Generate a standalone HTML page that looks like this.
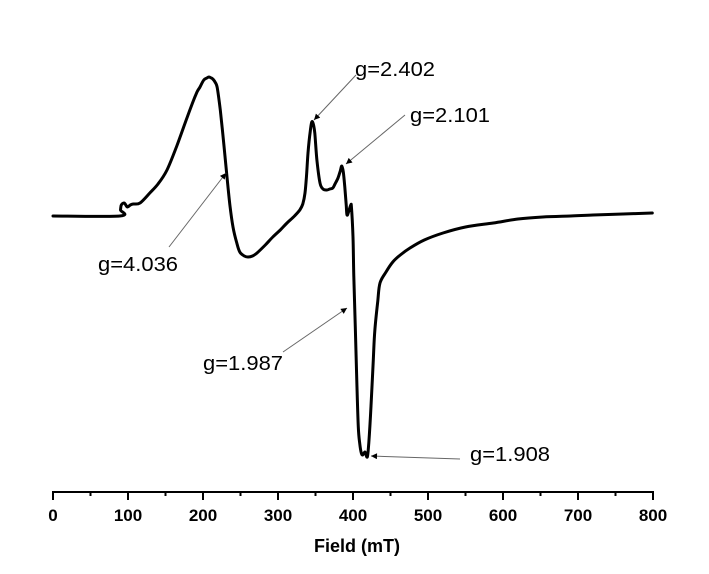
<!DOCTYPE html>
<html><head><meta charset="utf-8"><style>
body{margin:0;background:#fff;}
svg{display:block;font-family:"Liberation Sans",Arial,sans-serif;}
</style></head><body>
<svg id="chart" width="709" height="574" viewBox="0 0 709 574" xmlns="http://www.w3.org/2000/svg">
<defs><marker id="ah" viewBox="0 0 10 10" refX="10" refY="5" markerWidth="9" markerHeight="6" orient="auto"><path d="M0,0 L10,5 L0,10 z" fill="#000"/></marker></defs>
<g id="axis"></g>
<path id="curve" fill="none" stroke="#000" stroke-width="3" stroke-linejoin="round" stroke-linecap="round"/>
<g id="ann"></g>
<text x="357" y="552" text-anchor="middle" font-size="18" font-weight="bold">Field (mT)</text>
</svg>
<script>
const fieldValues=[0,89,90,91,95,99,103,107,116,129,140,152,165,179,186,192,196,201,205,208,211,213,216,219,223,228,232,236,240,245,249,255,260,266,272,283,293,303,312,322,329,333,336,338,340,343,345,347,349,352,356,360,365,369,373,376,380,383,385,387,389,391,392,394,397,398,400,401,403,405,407,409,411,413,416,419,421,424,427,429,433,436,444,453,463,476,495,520,550,587,620,653,690,720,760,799];
const signalValues=[0,0,6,11,13,9,11,12,13,23,32,46,70,99,113,124,129,136,138,139,138,137,134,128,106,70,39,10,-11,-27,-36,-40,-41,-40,-37,-29,-21,-14,-7,0,6,12,23,40,63,85,94,92,83,55,33,27,26,27,28,32,38,45,50,44,29,10,1,4,11,8,-21,-60,-111,-165,-211,-228,-237,-239,-236,-241,-227,-190,-144,-115,-85,-67,-56,-46,-39,-32,-24,-17,-11,-7,-3,-1,0,1,2,3];
const tickValues=[0,100,200,300,400,500,600,700,800];
const minorTickValues=[50,150,250,350,450,550,650,750];
const annotLabels=["g=2.402","g=2.101","g=4.036","g=1.987","g=1.908"];
const NS="http://www.w3.org/2000/svg";
function xs(v){return 53+v*0.75;}
function ys(v){return 216-v;}
const axis=document.getElementById('axis');
function mk(tag,attrs,parent){const e=document.createElementNS(NS,tag);for(const k in attrs)e.setAttribute(k,attrs[k]);parent.appendChild(e);return e;}
const al=mk('line',{x1:xs(0),x2:xs(800),y1:492,y2:492,stroke:'#000','stroke-width':2},axis);


tickValues.forEach(t=>{
  const l=mk('line',{x1:xs(t),x2:xs(t),y1:491,y2:500,stroke:'#000','stroke-width':2},axis);
  
  
  const tx=mk('text',{x:xs(t),y:521,'text-anchor':'middle','font-size':17,'font-weight':'bold'},axis);
  tx.textContent=t;
  
  
});
minorTickValues.forEach(t=>{
  const l=mk('line',{x1:xs(t),x2:xs(t),y1:491,y2:496,stroke:'#000','stroke-width':2},axis);
  
  
});
const pts=fieldValues.map((f,i)=>[xs(f),ys(signalValues[i])]);
let d='M'+pts[0][0]+','+pts[0][1];
for(let i=0;i<pts.length-1;i++){
  const p0=pts[Math.max(0,i-1)],p1=pts[i],p2=pts[i+1],p3=pts[Math.min(pts.length-1,i+2)];
  const c1=[p1[0]+(p2[0]-p0[0])/6,p1[1]+(p2[1]-p0[1])/6];
  const c2=[p2[0]-(p3[0]-p1[0])/6,p2[1]-(p3[1]-p1[1])/6];
  d+='C'+c1[0].toFixed(1)+','+c1[1].toFixed(1)+' '+c2[0].toFixed(1)+','+c2[1].toFixed(1)+' '+p2[0].toFixed(1)+','+p2[1].toFixed(1);
}
document.getElementById('curve').setAttribute('d',d);
const ann=document.getElementById('ann');
const annGeom=[[355,76,356,75,314,120],[410,122,405,115,346,164],[98,271,169,247,226,173],[203,370,283,352,347,308],[470,461,460,459,371,456]];
annGeom.forEach((g,i)=>{
  const l=mk('line',{x1:g[2],y1:g[3],x2:g[4],y2:g[5],stroke:'#666','stroke-width':1,'marker-end':'url(#ah)'},ann);
  
  
  const t=mk('text',{x:g[0],y:g[1],'font-size':20,textLength:80,lengthAdjust:'spacingAndGlyphs'},ann);
  t.textContent=annotLabels[i];
  
  
});
</script>
</body></html>
